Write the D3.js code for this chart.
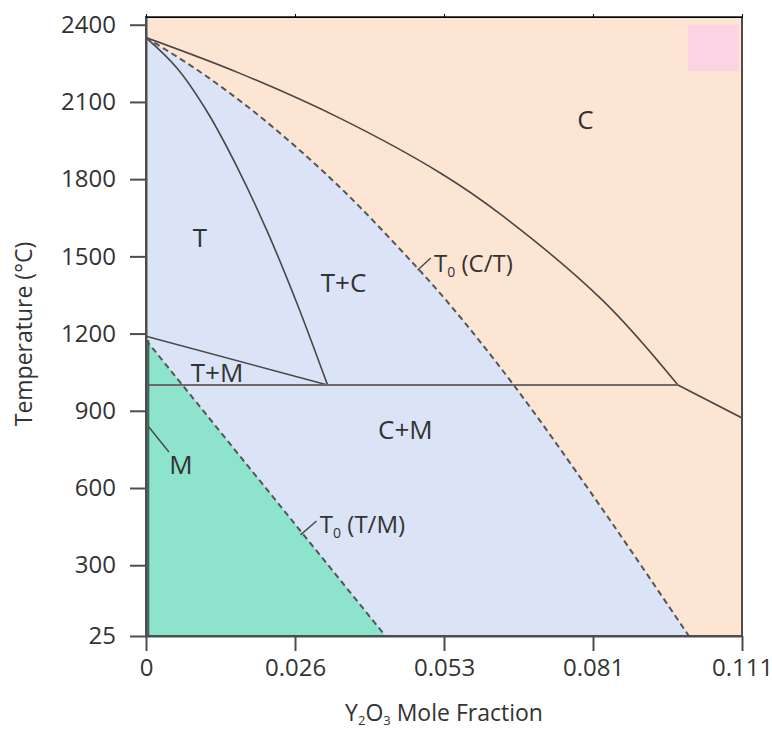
<!DOCTYPE html>
<html>
<head>
<meta charset="utf-8">
<script src="https://cdn.jsdelivr.net/npm/d3@7"></script>
<style>
  body { margin: 0; background: #fff; }
  text { font-family: "Open Sans", sans-serif; fill: #333; }
</style>
</head>
<body>
<div id="chart"></div>
<script>
// phase diagram: ZrO2 - Y2O3

var xTicks = [0, 0.026, 0.053, 0.081, 0.111];
var yTicks = [25, 300, 600, 900, 1200, 1500, 1800, 2100, 2400];

// boundaries, [mole fraction, temperature]
var cubicBoundary = [[0, 2350], [0.0164, 2211], [0.0342, 2036], [0.0524, 1823], [0.0636, 1664], [0.0832, 1324], [0.0981, 1000]];
var cubicBoundaryLow = [[0.0981, 1000], [0.111, 872]];
var t0CT = [[0, 2350], [0.0089, 2225], [0.0177, 2082], [0.0264, 1921], [0.0355, 1740], [0.0445, 1540], [0.0537, 1322], [0.0661, 1000], [0.0826, 526], [0.1003, 25]];
var tetraBoundary = [[0, 2350], [0.0054, 2232], [0.0107, 2061], [0.0159, 1847], [0.0212, 1595], [0.0264, 1315], [0.0319, 1000]];
var tmBoundary = [[0, 1190], [0.0319, 1000]];
var eutectoid = [[0.0004, 1000], [0.0981, 1000]];
var t0TM = [[0, 1175], [0.0424, 25]];
var mSolvus = [[0.0004, 1175], [0.0004, 25]];
var pinkBox = {x: [0.1001, 0.1104], t: [2220, 2400]};

var regionLabels = [
    {text: "C", x: 0.0796, t: 2030},
    {text: "T", x: 0.0094, t: 1571},
    {text: "T+C", x: 0.0348, t: 1397},
    {text: "T+M", x: 0.0124, t: 1047},
    {text: "C+M", x: 0.046, t: 826},
    {text: "M", x: 0.0061, t: 690}
];
var leaders = [
    {from: [0.0482, 1446], to: [0.0506, 1494], label: "C/T", at: [0.0512, 1440]},
    {from: [0.027, 418], to: [0.0299, 472], label: "T/M", at: [0.0305, 425]},
    {from: [0.0005, 837], to: [0.004, 740]}
];

var cfg = {
    width: 772, height: 733,
    margin: {top: 17, right: 30, bottom: 97, left: 146},
    orange: "#fde5d4", blue: "#dbe3f7", green: "#8de3cb", pink: "#fcd3e2",
    line: "#4a4646"
};
var w = cfg.width - cfg.margin.left - cfg.margin.right,
    h = cfg.height - cfg.margin.top - cfg.margin.bottom;

// x ticks are evenly spaced in the original, so the scale is piecewise
var x = d3.scaleLinear()
    .domain(xTicks)
    .range(xTicks.map(function(d, i) { return i * w / (xTicks.length - 1); }));
var y = d3.scaleLinear().domain([25, 2430]).range([h, 0]);

var svg = d3.select("#chart").append("svg")
    .attr("width", cfg.width)
    .attr("height", cfg.height)
    .append("g")
    .attr("transform", "translate(" + cfg.margin.left + "," + cfg.margin.top + ")");

svg.append("clipPath").attr("id", "plotClip")
    .append("rect").attr("width", w).attr("height", h);

var plot = svg.append("g").attr("clip-path", "url(#plotClip)");

plot.append("rect")
    .attr("width", w).attr("height", h)
    .style("fill", cfg.orange);

plot.append("rect")
    .attr("x", x(pinkBox.x[0]))
    .attr("y", y(pinkBox.t[1]))
    .attr("width", x(pinkBox.x[1]) - x(pinkBox.x[0]))
    .attr("height", y(pinkBox.t[0]) - y(pinkBox.t[1]))
    .style("fill", cfg.pink);

var area = d3.area()
    .x(function(d) { return x(d[0]); })
    .y0(y(25))
    .y1(function(d) { return y(d[1]); });

plot.append("path")
    .attr("d", area.curve(d3.curveCatmullRom)(t0CT))
    .style("fill", cfg.blue);
plot.append("path")
    .attr("d", area.curve(d3.curveLinear)(t0TM))
    .style("fill", cfg.green);

var curved = d3.line()
    .x(function(d) { return x(d[0]); })
    .y(function(d) { return y(d[1]); })
    .curve(d3.curveCatmullRom);
var straight = d3.line()
    .x(function(d) { return x(d[0]); })
    .y(function(d) { return y(d[1]); });

plot.append("path").attr("d", curved(cubicBoundary))
    .style("fill", "none").style("stroke", cfg.line).style("stroke-width", 1.6);
plot.append("path").attr("d", straight(cubicBoundaryLow))
    .style("fill", "none").style("stroke", cfg.line).style("stroke-width", 1.6);
plot.append("path").attr("d", curved(tetraBoundary))
    .style("fill", "none").style("stroke", cfg.line).style("stroke-width", 1.6);
plot.append("path").attr("d", straight(tmBoundary))
    .style("fill", "none").style("stroke", cfg.line).style("stroke-width", 1.6);
plot.append("path").attr("d", straight(eutectoid))
    .style("fill", "none").style("stroke", "#6e6868").style("stroke-width", 2);
plot.append("path").attr("d", straight(mSolvus))
    .style("fill", "none").style("stroke", "#2f6a5a").style("stroke-width", 2);

plot.append("path").attr("d", curved(t0CT))
    .style("fill", "none").style("stroke", "#555").style("stroke-width", 2)
    .style("stroke-dasharray", "6,4");
plot.append("path").attr("d", straight(t0TM))
    .style("fill", "none").style("stroke", "#555").style("stroke-width", 2)
    .style("stroke-dasharray", "6,4");

// leader lines + T0 labels
leaders.forEach(function(d) {
    svg.append("line")
        .attr("x1", x(d.from[0])).attr("y1", y(d.from[1]))
        .attr("x2", x(d.to[0])).attr("y2", y(d.to[1]))
        .style("stroke", cfg.line).style("stroke-width", 1.4);
    if (d.label) {
        var t = svg.append("text")
            .attr("x", x(d.at[0])).attr("y", y(d.at[1]))
            .style("font-size", "24px");
        t.append("tspan").text("T");
        t.append("tspan").attr("dy", 5).style("font-size", "14px").text("0");
        t.append("tspan").attr("dy", -5).text(" (" + d.label + ")");
    }
});

svg.selectAll(".region")
    .data(regionLabels)
    .enter().append("text")
    .attr("class", "region")
    .attr("x", function(d) { return x(d.x); })
    .attr("y", function(d) { return y(d.t); })
    .attr("dy", "0.35em")
    .attr("text-anchor", "middle")
    .style("font-size", "26px")
    .text(function(d) { return d.text; });

// frame
svg.append("rect")
    .attr("width", w).attr("height", h)
    .style("fill", "none").style("stroke", "#4d4d4d").style("stroke-width", 2);

var xAxis = svg.append("g")
    .attr("transform", "translate(0," + h + ")")
    .call(d3.axisBottom(x).tickValues(xTicks).tickSize(15).tickSizeOuter(0).tickPadding(8)
        .tickFormat(function(d) { return d === 0 ? "0" : d3.format(".3f")(d); }));
var yAxis = svg.append("g")
    .call(d3.axisLeft(y).tickValues(yTicks).tickSize(16).tickSizeOuter(0).tickPadding(14)
        .tickFormat(d3.format("d")));
svg.append("g")
    .call(d3.axisTop(x).tickValues(xTicks).tickSize(3).tickSizeOuter(0).tickFormat(""));

[xAxis, yAxis].forEach(function(a) {
    a.selectAll("path").style("stroke", "#4d4d4d").style("stroke-width", 2);
    a.selectAll("line").style("stroke", "#4d4d4d").style("stroke-width", 2);
    a.selectAll("text").style("font-size", "24px").style("font-family", "Open Sans").style("fill", "#333");
});

// axis titles
var xTitle = svg.append("text")
    .attr("x", x(0.053))
    .attr("y", h + 85)
    .attr("text-anchor", "middle")
    .style("font-size", "23px");
xTitle.append("tspan").text("Y");
xTitle.append("tspan").attr("dy", 4).style("font-size", "13px").text("2");
xTitle.append("tspan").attr("dy", -4).text("O");
xTitle.append("tspan").attr("dy", 4).style("font-size", "13px").text("3");
xTitle.append("tspan").attr("dy", -4).text(" Mole Fraction");

svg.append("text")
    .attr("transform", "translate(" + (-114) + "," + 317 + ") rotate(-90)")
    .attr("text-anchor", "middle")
    .style("font-size", "23px")
    .text("Temperature (\u00B0C)");
</script>
</body>
</html>
